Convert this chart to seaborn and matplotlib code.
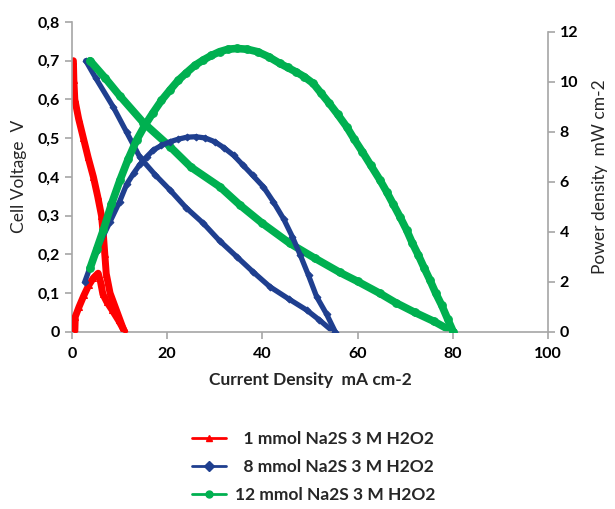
import matplotlib
matplotlib.use("Agg")
import matplotlib.pyplot as plt
import seaborn as sns
from matplotlib.lines import Line2D
from matplotlib.ticker import FuncFormatter

# Polarization data (current density mA cm-2, cell voltage V)
red_i_v = [0.3, 0.4, 0.6, 1.4, 2.4, 3.4, 4.5, 5.4, 6.2, 6.6, 6.9, 7.2, 8.0, 9.5, 11.0]
red_v = [0.70, 0.65, 0.60, 0.55, 0.50, 0.45, 0.40, 0.35, 0.30, 0.25, 0.20, 0.15, 0.10, 0.05, 0.0]

blue_i_v = [2.9, 5, 8.7, 11.5, 14.3, 17.5, 20.6, 24, 27.6, 31, 34.6, 38, 41.6, 45.5, 49.3, 52, 54.9]
blue_v = [0.70, 0.655, 0.58, 0.515, 0.45, 0.405, 0.366, 0.32, 0.28, 0.235, 0.194, 0.155,
          0.116, 0.085, 0.056, 0.03, 0.0]

green_i_v = [3.8, 7, 10, 15, 20.6, 25, 31.1, 35.3, 40, 45.8, 51, 56.3, 60, 64.7, 68, 72, 76, 80]
green_v = [0.70, 0.655, 0.61, 0.54, 0.478, 0.425, 0.374, 0.327, 0.28, 0.228, 0.19, 0.153,
           0.13, 0.099, 0.075, 0.05, 0.027, 0.0]

# Power density data (current density mA cm-2, power mW cm-2)
red_i_p = [0.6, 0.7, 1.5, 2.5, 3.5, 4.5, 5.5, 6.0, 6.5, 7.3, 8.5, 9.8, 11.1]
red_p = [0.0, 0.6, 1.0, 1.45, 1.85, 2.15, 2.34, 2.0, 1.5, 1.2, 0.85, 0.45, 0.0]

blue_i_p = [2.7, 5, 8, 10, 11.5, 13, 14.3, 15.7, 17.1, 18.8, 20.6, 22.3, 24.1, 26, 28, 30,
            32, 34, 36, 38, 40.2, 42.3, 44.5, 46.3, 48, 49.7, 51.4, 53.5, 55.3]
blue_p = [2.0, 3.2, 4.4, 5.2, 5.9, 6.35, 6.7, 7.0, 7.27, 7.45, 7.6, 7.7, 7.78, 7.8, 7.75,
          7.6, 7.35, 7.05, 6.65, 6.25, 5.8, 5.2, 4.5, 3.8, 3.05, 2.25, 1.4, 0.7, 0.0]

green_i_p = [3.8, 5.2, 6.6, 8.3, 10.1, 11.8, 13.6, 15.3, 17, 18.8, 20.6, 22.3, 24, 25.8, 27.6,
             29.3, 31, 32.8, 34.6, 36.8, 39, 41.3, 43.7, 45.3, 47, 48.8, 50.7, 52.3, 54,
             55.8, 57.7, 59.3, 61, 62.8, 64.7, 66.1, 67.5, 68.9, 70.3, 71.5, 72.8, 74,
             75.2, 76.4, 77.7, 78.9, 80.1]
green_p = [2.54, 3.3, 4.07, 5.1, 6.07, 6.9, 7.67, 8.25, 8.75, 9.25, 9.67, 10.05, 10.35,
           10.65, 10.87, 11.05, 11.2, 11.3, 11.33, 11.3, 11.2, 11.0, 10.73, 10.57, 10.4,
           10.2, 9.93, 9.55, 9.15, 8.7, 8.2, 7.7, 7.2, 6.65, 6.07, 5.6, 5.1, 4.6, 4.07,
           3.55, 3.05, 2.55, 2.07, 1.55, 1.05, 0.52, 0.0]

labels = ["  1 mmol Na2S 3 M H2O2", "  8 mmol Na2S 3 M H2O2", "12 mmol Na2S 3 M H2O2"]
x_ticks = [0, 20, 40, 60, 80, 100]
v_ticks = [0, 0.1, 0.2, 0.3, 0.4, 0.5, 0.6, 0.7, 0.8]
p_ticks = [0, 2, 4, 6, 8, 10, 12]

sns.set_style("white")
plt.rcParams["font.family"] = ["Lato", "DejaVu Sans"]

red, blue, green = "#FF0000", "#1F3F8F", "#00B050"
gray = "#A6A6A6"

fig = plt.figure(figsize=(6.15, 5.09), dpi=100)
ax = fig.add_axes([0.117, 0.3483, 0.774, 0.6085])
ax2 = ax.twinx()

series = [
    (red_i_v, red_v, red_i_p, red_p, red, "^", 5.0, 4),
    (blue_i_v, blue_v, blue_i_p, blue_p, blue, "D", 3.8, 3.5),
    (green_i_v, green_v, green_i_p, green_p, green, "o", 5.5, 5.5),
]
for iv, v, ip, p, col, mk, lw, ms in series:
    sns.lineplot(x=iv, y=v, ax=ax, color=col, marker=mk, markersize=ms, linewidth=lw,
                 markeredgecolor=col, sort=False)
    sns.lineplot(x=ip, y=p, ax=ax2, color=col, marker=mk, markersize=ms, linewidth=lw,
                 markeredgecolor=col, sort=False)

ax.set_xlim(0, 100)
ax.set_ylim(0, 0.8)
ax2.set_ylim(0, 12.39)
ax.set_xticks(x_ticks)
ax.set_yticks(v_ticks)
ax2.set_yticks(p_ticks)
ax.yaxis.set_major_formatter(FuncFormatter(lambda val, pos: f"{val:g}".replace(".", ",")))

for a in (ax, ax2):
    a.spines["top"].set_visible(False)
    for s in ("left", "right", "bottom"):
        a.spines[s].set_color(gray)
        a.spines[s].set_linewidth(1.2)
ax.spines["right"].set_visible(False)
ax2.spines["left"].set_visible(False)
ax2.spines["bottom"].set_visible(False)
ax2.spines["right"].set_bounds(0, 12)

tick_font = dict(labelsize=11.5, length=5, width=1.2, color=gray, labelcolor="black")
ax.tick_params(axis="both", direction="out", **tick_font)
ax.tick_params(axis="y", left=True)
ax.tick_params(axis="x", bottom=True, pad=6)
ax2.tick_params(axis="y", direction="out", right=True, **tick_font)
for lab in ax.get_xticklabels() + ax.get_yticklabels() + ax2.get_yticklabels():
    lab.set_fontweight("bold")

ax.set_xlabel("Current Density  mA cm-2", fontsize=12.5, fontweight="bold", labelpad=8)
ax.set_ylabel("Cell Voltage  V", fontsize=12.5, labelpad=8)
ax2.set_ylabel("Power density  mW cm-2", fontsize=12.5, labelpad=10)

handles = [Line2D([0], [0], color=c, marker=m, markersize=5, linewidth=2)
           for c, m in [(red, "^"), (blue, "D"), (green, "o")]]
fig.legend(handles, labels, loc="center", bbox_to_anchor=(0.51, 0.083), frameon=False,
           prop={"size": 12.5, "weight": "bold"}, handlelength=2.0, labelspacing=0.7,
           handletextpad=0.5)

fig.savefig("out.png", dpi=100)
